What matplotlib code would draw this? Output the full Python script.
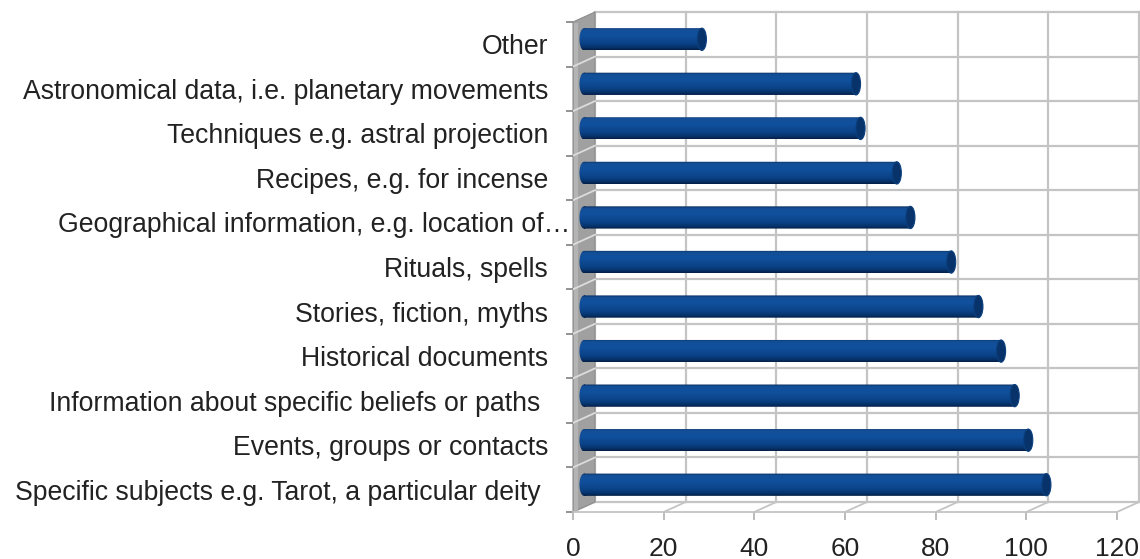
import numpy as np
import matplotlib
matplotlib.use("Agg")
import matplotlib.pyplot as plt
from matplotlib.transforms import ScaledTranslation
from matplotlib.patches import Polygon, Ellipse, PathPatch
from matplotlib.path import Path
from matplotlib.colors import LinearSegmentedColormap

categories = [
    "Other",
    "Astronomical data, i.e. planetary movements",
    "Techniques e.g. astral projection",
    "Recipes, e.g. for incense",
    "Geographical information, e.g. location of\u2026",
    "Rituals, spells",
    "Stories, fiction, myths",
    "Historical documents",
    "Information about specific beliefs or paths ",
    "Events, groups or contacts",
    "Specific subjects e.g. Tarot, a particular deity ",
]
counts = [26, 60, 61, 69, 72, 81, 87, 92, 95, 98, 102]
xticks = [0, 20, 40, 60, 80, 100, 120]

plt.rcParams["font.family"] = ["Liberation Sans", "DejaVu Sans"]

W, H, DPI = 1140, 559, 100
fig = plt.figure(figsize=(W / DPI, H / DPI), dpi=DPI)

# front face of the box, in pixels from the top-left
x0, x1, ytop, ybot = 573, 1117, 22, 512
ax = fig.add_axes([x0 / W, 1 - ybot / H, (x1 - x0) / W, (ybot - ytop) / H])
n = len(categories)
y = np.arange(n)

# depth of the box: back plane sits DX px right and DY px up
DX, DY = 22, 10
back = ax.transData + ScaledTranslation(DX / DPI, DY / DPI, fig.dpi_scale_trans)
mid = ax.transData + ScaledTranslation(DX / 2 / DPI, DY / 2 / DPI, fig.dpi_scale_trans)
ddx = DX / (x1 - x0) * 120
ddy = DY / (ybot - ytop) * n

grid_c = "#c4c4c4"
top, bot = -0.5, n - 0.5

# back wall grid
for t in xticks:
    ax.plot([t, t], [top, bot], color=grid_c, lw=1.6, transform=back,
            clip_on=False, zorder=0.5)
for k in range(n + 1):
    ax.plot([0, 120], [k - 0.5, k - 0.5], color=grid_c, lw=1.6,
            transform=back, clip_on=False, zorder=0.5)

# floor lines running from the front edge to the back wall
for t in xticks:
    ax.plot([t, t + ddx], [bot, bot - ddy], color=grid_c, lw=1.3,
            clip_on=False, zorder=0.5)

# grey side wall on the left
wall = Polygon([(0, top), (0, bot), (ddx, bot - ddy), (ddx, top - ddy)],
               closed=True, facecolor="#a0a0a0", edgecolor="#8c8c8c", lw=0.8,
               clip_on=False, zorder=0.6)
ax.add_patch(wall)
ax.plot([0.6, 0.6], [top + 0.02, bot], color="#b4b4b4", lw=3,
        solid_capstyle="butt", clip_on=False, zorder=0.65)
for k in range(1, n):
    b = k - 0.5
    ax.plot([0, ddx], [b, b - ddy], color="#dcdcdc", lw=1.3, clip_on=False,
            zorder=0.7)

# cylinder bars
bars = ax.barh(y, counts, height=0.5, facecolor="none", edgecolor="none",
               zorder=3.5)
shade = LinearSegmentedColormap.from_list(
    "cyl", [(0.0, "#0a2e5e"), (0.1, "#134f98"), (0.35, "#10509d"),
            (0.7, "#0b4388"), (0.88, "#07336d"), (1.0, "#031f46")])
grad = np.linspace(0, 1, 64).reshape(-1, 1)
r = 1.0  # cap radius in x units
theta = np.linspace(0, 2 * np.pi, 60)
for b in bars:
    b.set_transform(mid)
    b.set_clip_on(False)
    bx, by, bw, bh = b.get_x(), b.get_y(), b.get_width(), b.get_height()
    yc = by + bh / 2
    # body outline: rectangle plus the rounded far end on the left
    body = Path.make_compound_path(
        Path([(bx, by), (bx + bw, by), (bx + bw, by + bh), (bx, by + bh),
              (bx, by)], closed=True),
        Path(np.column_stack([bx + r * np.cos(theta),
                              yc + bh / 2 * np.sin(theta)]), closed=True))
    clip = PathPatch(body, transform=mid)
    im = ax.imshow(grad, cmap=shade, origin="lower", aspect="auto",
                   extent=(bx - r, bx + bw, by, by + bh), transform=mid,
                   interpolation="bilinear", clip_on=True, zorder=3)
    im.set_clip_path(clip)
    ax.add_patch(Ellipse((bx + bw, yc), 2 * r, bh,
                         facecolor="#08336a", edgecolor="#0b3f7e", lw=0.8,
                         transform=mid, clip_on=False, zorder=4))

ax.set_xlim(0, 120)
ax.set_ylim(bot, top)

for s in ["top", "right", "left"]:
    ax.spines[s].set_visible(False)
ax.spines["bottom"].set_color(grid_c)
ax.spines["bottom"].set_linewidth(1.3)
ax.set_xticks(xticks)
ax.tick_params(axis="x", length=6, width=1.2, color="#b0b0b0", pad=12,
               labelsize=19, labelcolor="#222222")
ax.set_yticks([])
ax.set_yticks(np.arange(n + 1) - 0.5, minor=True)
ax.tick_params(axis="y", which="minor", length=5, width=1.2, color="#808080",
               direction="out")
ax.set_facecolor("none")

# category labels next to the wall
for i, lab in enumerate(categories):
    shift = -3 if lab.endswith("\u2026") else -25
    tr = ax.transData + ScaledTranslation(shift / DPI, -3 / DPI,
                                          fig.dpi_scale_trans)
    ax.text(0, i, lab, ha="right", va="center", fontsize=19.2,
            color="#222222", transform=tr, clip_on=False)

fig.savefig("out.png", dpi=DPI)
